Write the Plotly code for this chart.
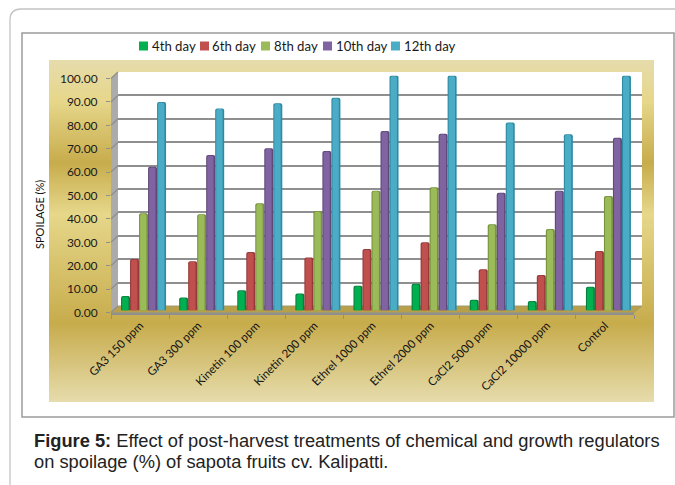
import plotly.graph_objects as go

# Spoilage (%) of sapota fruits by treatment and storage day
treatments = ["GA3 150 ppm", "GA3 300 ppm", "Kinetin 100 ppm", "Kinetin 200 ppm",
              "Ethrel 1000 ppm", "Ethrel 2000 ppm", "CaCl2 5000 ppm", "CaCl2 10000 ppm", "Control"]
day_4 = [6.2, 5.5, 8.6, 7.2, 10.5, 11.4, 4.6, 4.0, 10.1]
day_6 = [21.9, 21.0, 24.9, 22.5, 26.2, 29.0, 17.5, 15.1, 25.3]
day_8 = [41.4, 41.0, 45.6, 42.3, 51.0, 52.4, 36.7, 34.7, 48.7]
day_10 = [61.2, 66.2, 69.0, 67.9, 76.4, 75.2, 50.1, 51.0, 73.5]
day_12 = [88.7, 86.0, 88.2, 90.5, 100.0, 100.0, 80.0, 75.0, 100.0]
series_names = ["4th day", "6th day", "8th day", "10th day", "12th day"]
series_values = [day_4, day_6, day_8, day_10, day_12]
body_colors = ["#00b050", "#c0504d", "#9bbb59", "#8064a2", "#4bacc6"]
edge_colors = ["#07813f", "#96393a", "#76923c", "#5f497a", "#2f8aa3"]
legend_x = [139, 200, 261, 323, 391]
y_ticks = list(range(0, 101, 10))

W, H = 675, 485
GRID = "#8f8f8f"
FONT = "Lato, Carlito, sans-serif"


def px(x):
    return x / W


def py(y):
    return 1 - y / H


def dom_x(a, b):
    return [px(a), px(b)]


def dom_y(top, bottom):
    return [py(bottom), py(top)]


def rect(x0, y0, x1, y1, **kw):
    return dict(type="rect", xref="paper", yref="paper", x0=px(x0), x1=px(x1),
                y0=py(y0), y1=py(y1), **kw)


def poly(points, **kw):
    d = "M" + " L".join(f"{px(a):.5f},{py(b):.5f}" for a, b in points) + " Z"
    return dict(type="path", xref="paper", yref="paper", path=d, **kw)


def hex_mix(c0, c1, t):
    a = [int(c0[i:i + 2], 16) for i in (1, 3, 5)]
    b = [int(c1[i:i + 2], 16) for i in (1, 3, 5)]
    return "#" + "".join(f"{round(u + (v - u) * t):02x}" for u, v in zip(a, b))


shapes = []
# Page outline with the rounded corner, and the chart frame
shapes.append(dict(type="path", xref="paper", yref="paper",
                   path=f"M{px(10):.5f},{py(485):.5f} L{px(10):.5f},{py(20):.5f} "
                        f"Q{px(10):.5f},{py(9):.5f} {px(21):.5f},{py(9):.5f} L{px(675):.5f},{py(9):.5f}",
                   line=dict(color="#c4c4c4", width=1.3), layer="below"))
shapes.append(rect(22, 33, 674, 417, line=dict(color="#9c9c9c", width=1.5),
                   fillcolor="#ffffff", layer="below"))

# Gold panel, built from thin horizontal bands
stops = [(0, "#e6dcac"), (0.12, "#e6d78a"), (0.30, "#c7ac4c"),
         (0.45, "#e6d78a"), (0.77, "#c7ac4c"), (1, "#e6dcac")]
panel_top, panel_bottom, band = 60, 402, 2
for y in range(panel_top, panel_bottom, band):
    t = (y + band / 2 - panel_top) / (panel_bottom - panel_top)
    for (t0, c0), (t1, c1) in zip(stops, stops[1:]):
        if t0 <= t <= t1:
            color = hex_mix(c0, c1, (t - t0) / (t1 - t0))
            break
    shapes.append(rect(49, y, 654, min(y + band + 1, panel_bottom), fillcolor=color,
                       line_width=0, layer="below"))

# Back wall, side wall and floor of the box
shapes.append(rect(118, 72, 642, 306, fillcolor="#ffffff", line_width=0, layer="below"))
shapes.append(poly([(111, 78.5), (118, 72), (118, 306), (111, 312.5)],
                   fillcolor="#ababab", line_width=0, layer="below"))
shapes.append(poly([(118, 306), (642, 306), (634, 312.5), (111, 312.5)],
                   fillcolor="#b8a04a", line=dict(color="#a09a70", width=1), layer="below"))
for v in y_ticks:
    front = 312.5 - v * 2.34
    shapes.append(dict(type="line", xref="paper", yref="paper", x0=px(111), x1=px(118),
                       y0=py(front), y1=py(front - 6.5),
                       line=dict(color=GRID, width=1.3), layer="below"))

# Legend swatches
for x, color in zip(legend_x, body_colors):
    shapes.append(rect(x, 41.5, x + 9, 50.5, fillcolor=color, line_width=0, layer="above"))

fig = go.Figure()

# Gridlines sit on the back wall axes, drawn first so the bars cover them
fig.add_trace(go.Scatter(x=treatments, y=[None] * len(treatments), xaxis="x", yaxis="y",
                         showlegend=False, hoverinfo="skip"))
# Front axes carry the ticks and labels
fig.add_trace(go.Scatter(x=treatments, y=[None] * len(treatments), xaxis="x2", yaxis="y2",
                         showlegend=False, hoverinfo="skip"))

bar_w = 0.155
for i, (name, vals) in enumerate(zip(series_names, series_values)):
    offset = (i - 2.5) * bar_w
    fig.add_trace(go.Bar(x=treatments, y=vals, name=name, xaxis="x3", yaxis="y3",
                         width=bar_w, offset=offset, showlegend=False,
                         marker=dict(color=edge_colors[i], cornerradius=2, line_width=0)))
    fig.add_trace(go.Bar(x=treatments, y=[max(v - 0.3, 0) for v in vals], name=name,
                         xaxis="x3", yaxis="y3",
                         width=bar_w * 0.7, offset=offset + bar_w * 0.12, showlegend=False,
                         hoverinfo="skip",
                         marker=dict(color=body_colors[i], cornerradius=2, line_width=0)))

annotations = []
for x, name in zip(legend_x, series_names):
    annotations.append(dict(text=name, xref="paper", yref="paper", x=px(x + 10.5), y=py(46),
                            xanchor="left", yanchor="middle", showarrow=False,
                            font=dict(family=FONT, size=13.2, color="#1a1a1a")))
annotations.append(dict(text="SPOILAGE (%)", xref="paper", yref="paper", x=px(39), y=py(215),
                        xanchor="center", yanchor="middle", textangle=-90, showarrow=False,
                        font=dict(family=FONT, size=11, color="#111111")))
annotations.append(dict(text="<b>Figure 5:</b> Effect of post-harvest treatments of chemical and growth regulators",
                        xref="paper", yref="paper", x=px(31.5), y=py(440), xanchor="left", yanchor="middle",
                        showarrow=False, font=dict(family="Liberation Sans", size=18.3, color="#222222")))
annotations.append(dict(text="on spoilage (%) of sapota fruits cv. Kalipatti.",
                        xref="paper", yref="paper", x=px(31.5), y=py(461), xanchor="left", yanchor="middle",
                        showarrow=False, font=dict(family="Liberation Sans", size=18.3, color="#222222")))

cat_range = [-0.5, 8.5]
hidden = dict(visible=False, fixedrange=True)
fig.update_layout(
    width=W, height=H, margin=dict(l=0, r=0, t=0, b=0), autosize=False,
    paper_bgcolor="#ffffff", plot_bgcolor="rgba(0,0,0,0)",
    barmode="overlay", showlegend=False, shapes=shapes, annotations=annotations,
    xaxis=dict(domain=dom_x(118, 642), type="category", categoryorder="array", categoryarray=treatments,
               range=cat_range, anchor="y", visible=False),
    yaxis=dict(domain=dom_y(72, 306), range=[0, 100], tickvals=y_ticks, anchor="x", showgrid=True,
               gridcolor=GRID, gridwidth=1.5, zeroline=False, showticklabels=False, ticks="", showline=False),
    xaxis2=dict(domain=dom_x(111, 634), type="category", categoryorder="array", categoryarray=treatments,
                range=cat_range, tickson="boundaries", ticks="outside", ticklen=4, tickcolor=GRID,
                tickwidth=1.3, showline=True, linecolor=GRID, linewidth=2, showgrid=False,
                tickangle=-45, tickfont=dict(family=FONT, size=11.5, color="#111111"), anchor="y2",
                automargin=False),
    yaxis2=dict(domain=dom_y(78.5, 312.5), range=[0, 100], tickvals=y_ticks,
                ticktext=[f"{v:.2f}" for v in y_ticks], ticks="outside", ticklen=4, tickcolor=GRID,
                tickwidth=1.3, showgrid=False, zeroline=False, showline=False, ticklabelstandoff=6,
                tickfont=dict(family=FONT, size=12, color="#1a1a1a"), anchor="x2", automargin=False),
    xaxis3=dict(domain=dom_x(114.5, 637.5), type="category", categoryorder="array", categoryarray=treatments,
                range=cat_range, anchor="y3", **hidden),
    yaxis3=dict(domain=dom_y(75.5, 310.5), range=[0, 100], anchor="x3", **hidden),
)

fig.write_html("out.html", config=dict(displayModeBar=False))
